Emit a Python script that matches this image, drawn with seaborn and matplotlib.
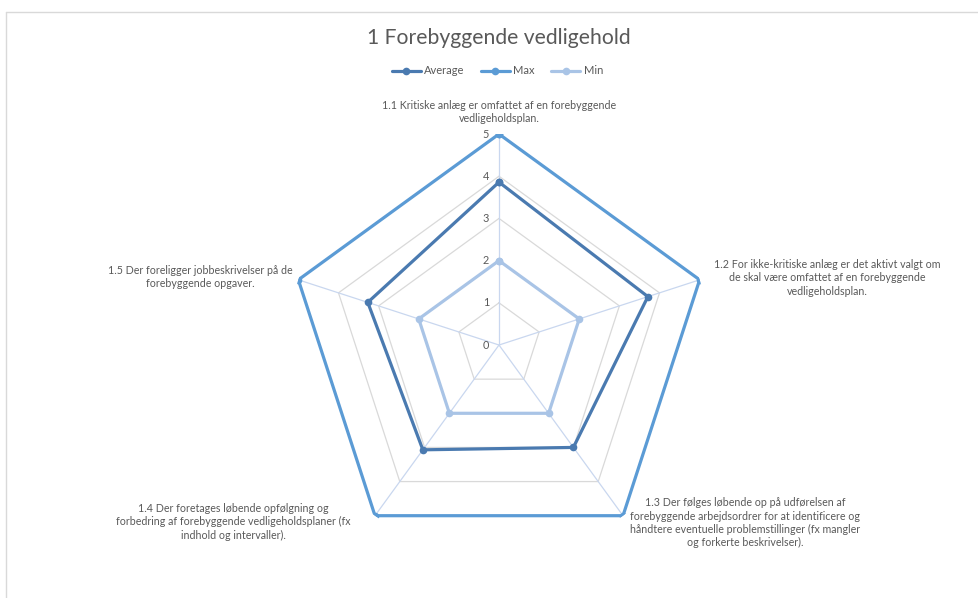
import numpy as np
import pandas as pd
import matplotlib
matplotlib.use("Agg")
import matplotlib.pyplot as plt
from matplotlib.lines import Line2D
import seaborn as sns

# Chart data
categories = [
    "1.1 Kritiske anlæg er omfattet af en forebyggende\nvedligeholdsplan.",
    "1.2 For ikke-kritiske anlæg er det aktivt valgt om\nde skal være omfattet af en forebyggende\nvedligeholdsplan.",
    "1.3 Der følges løbende op på udførelsen af\nforebyggende arbejdsordrer for at identificere og\nhåndtere eventuelle problemstillinger (fx mangler\nog forkerte beskrivelser).",
    "1.4 Der foretages løbende opfølgning og\nforbedring af forebyggende vedligeholdsplaner (fx\nindhold og intervaller).",
    "1.5 Der foreligger jobbeskrivelser på de\nforebyggende opgaver.",
]
average = [3.86, 3.71, 3.0, 3.07, 3.27]
max_vals = [5, 5, 5, 5, 5]
min_vals = [2, 2, 2, 2, 2]
series_names = ["Average", "Max", "Min"]
tick_levels = [0, 1, 2, 3, 4, 5]

colors = {"Average": "#4a7ab0", "Max": "#5b9bd5", "Min": "#a9c4e6"}
text_col = "#595959"

sns.set_theme(style="white")
plt.rcParams["font.family"] = ["Lato", "DejaVu Sans"]

n = len(categories)
theta = np.linspace(0, 2 * np.pi, n, endpoint=False)
theta_closed = np.append(theta, 2 * np.pi)

# long table for seaborn
rows = []
for name, vals in zip(series_names, [average, max_vals, min_vals]):
    vals_closed = list(vals) + [vals[0]]
    for t, v in zip(theta_closed, vals_closed):
        rows.append({"theta": t, "value": v, "series": name})
df = pd.DataFrame(rows)

fig = plt.figure(figsize=(9.79, 5.98), dpi=100)
ax = fig.add_axes([0.2942, 0.0702, 0.431, 0.7057], projection="polar")
ax.set_theta_offset(np.pi / 2)
ax.set_theta_direction(-1)
ax.set_ylim(0, 5)
ax.grid(False)
ax.spines["polar"].set_visible(False)
ax.set_facecolor("none")

# pentagon grid and spokes
for lvl in tick_levels[1:]:
    ax.plot(theta_closed, [lvl] * (n + 1), color="#d9d9d9", lw=0.9, zorder=1)
for t in theta:
    ax.plot([t, t], [0, 5], color="#c9d7ef", lw=0.9, zorder=1)

sns.lineplot(data=df, x="theta", y="value", hue="series", palette=colors,
             hue_order=series_names, sort=False, estimator=None,
             marker="o", markersize=5.5, markeredgewidth=0, linewidth=2.3,
             ax=ax, legend=False, zorder=3)
ax.set_xlabel("")
ax.set_ylabel("")
ax.set_xticks([])
ax.set_yticks([])
ax.set_ylim(0, 5)

# radial tick labels
for lvl in tick_levels:
    ax.annotate(str(lvl), xy=(0, lvl), xytext=(-10, 0), textcoords="offset pixels",
                ha="right", va="center", fontsize=7.8, color=text_col)

# category labels
offsets = [(0, 10, "center", "bottom"), (128, 2, "center", "center"),
           (122, -7, "center", "center"), (-142, -6, "center", "center"),
           (-98, 3, "center", "center")]
for t, lab, (dx, dy, ha, va) in zip(theta, categories, offsets):
    ax.annotate(lab, xy=(t, 5), xytext=(dx, dy), textcoords="offset pixels",
                ha=ha, va=va, multialignment="center", fontsize=7.7,
                color=text_col, linespacing=1.25, annotation_clip=False)

fig.text(0.51, 1 - 38 / 598, "1 Forebyggende vedligehold", ha="center", va="center",
         fontsize=15.2, color=text_col)

handles = [Line2D([], [], color=colors[s], lw=2.3, marker="o", markersize=5.5,
                  markeredgewidth=0) for s in series_names]
fig.legend(handles, series_names, loc="center", ncol=3, frameon=False,
           bbox_to_anchor=(0.508, 1 - 71 / 598), fontsize=8, labelcolor=text_col,
           handlelength=2.6, handletextpad=0.3, columnspacing=1.5)

# chart area border
fig.add_artist(Line2D([6 / 979, 6 / 979], [0, 1 - 12 / 598], color="#d9d9d9", lw=1))
fig.add_artist(Line2D([6 / 979, 1], [1 - 12 / 598, 1 - 12 / 598], color="#d9d9d9", lw=1))

fig.savefig("out.png", dpi=100)
